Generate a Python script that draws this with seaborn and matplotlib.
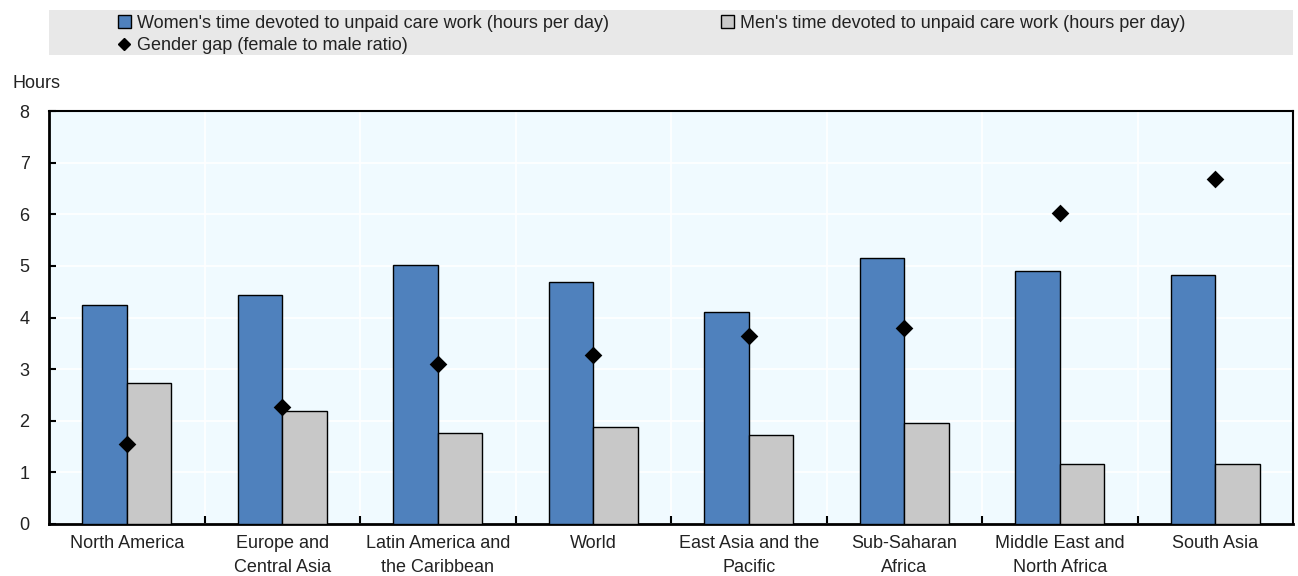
import numpy as np
import pandas as pd
import matplotlib
matplotlib.use("Agg")
import matplotlib.pyplot as plt
from matplotlib.lines import Line2D
from matplotlib.patches import Patch, Rectangle
from matplotlib.ticker import FixedLocator
import seaborn as sns

regions = ["North America", "Europe and\nCentral Asia", "Latin America and\nthe Caribbean",
           "World", "East Asia and the\nPacific", "Sub-Saharan\nAfrica",
           "Middle East and\nNorth Africa", "South Asia"]
women_hours = [4.24, 4.44, 5.02, 4.69, 4.11, 5.16, 4.90, 4.83]
men_hours = [2.73, 2.19, 1.76, 1.88, 1.72, 1.96, 1.16, 1.16]
gender_gap = [1.55, 2.27, 3.10, 3.27, 3.64, 3.80, 6.03, 6.69]

women_label = "Women's time devoted to unpaid care work (hours per day)"
men_label = "Men's time devoted to unpaid care work (hours per day)"
gap_label = "Gender gap (female to male ratio)"

sns.set_theme(style="white")
plt.rcParams["font.family"] = ["Liberation Sans", "DejaVu Sans"]

blue = "#4F81BD"
grey = "#C8C8C8"
text_color = "#222222"
fs = 13

bars = pd.DataFrame({
    "region": regions * 2,
    "hours": women_hours + men_hours,
    "series": [women_label] * len(regions) + [men_label] * len(regions),
})
gaps = pd.DataFrame({"region": regions, "gap": gender_gap})

fig = plt.figure(figsize=(12.98, 5.76), dpi=100)
ax = fig.add_axes([49 / 1298, 1 - 524 / 576, (1293 - 49) / 1298, (524 - 111) / 576])
ax.set_facecolor("#F0FAFF")

sns.barplot(data=bars, x="region", y="hours", hue="series", order=regions,
            hue_order=[women_label, men_label], palette=[blue, grey],
            width=0.575, gap=0, edgecolor="black", linewidth=1.0,
            saturation=1, legend=False, ax=ax, zorder=3)
sns.stripplot(data=gaps, x="region", y="gap", order=regions, jitter=False,
              marker="D", color="black", size=9, linewidth=0, ax=ax, zorder=4)

ax.set_xlim(-0.5, len(regions) - 0.5)
ax.set_ylim(0, 8)
ax.set_yticks(range(0, 9))
ax.set_xlabel("")
ax.set_ylabel("")

# category separators as minor ticks, white grid behind the bars
ax.xaxis.set_minor_locator(FixedLocator(np.arange(0.5, len(regions) - 0.5, 1)))
ax.grid(True, axis="y", which="major", color="white", linewidth=1.2, zorder=0)
ax.grid(True, axis="x", which="minor", color="white", linewidth=1.2, zorder=0)
ax.set_axisbelow(True)

ax.tick_params(axis="x", which="major", length=0, pad=8, labelsize=fs, colors=text_color)
ax.tick_params(axis="x", which="minor", direction="in", length=6, width=1.5,
               color="black", bottom=True)
ax.tick_params(axis="y", which="major", direction="in", length=5, width=1.5,
               color="black", left=True, labelsize=fs, pad=14, labelcolor=text_color)
for lbl in ax.get_xticklabels():
    lbl.set_linespacing(1.5)

for side in ["left", "bottom", "top", "right"]:
    ax.spines[side].set_visible(True)
    ax.spines[side].set_color("black")
    ax.spines[side].set_linewidth(1.5)
ax.spines["bottom"].set_linewidth(2.0)
ax.spines["left"].set_linewidth(2.0)

fig.text(12 / 1298, 1 - 83 / 576, "Hours", fontsize=fs, color=text_color, va="center", ha="left")

# legend band
fig.patches.append(Rectangle((49 / 1298, 1 - 55 / 576), (1293 - 49) / 1298, 45 / 576,
                             transform=fig.transFigure, facecolor="#E8E8E8",
                             edgecolor="none", zorder=0))
handles = [
    Patch(facecolor=blue, edgecolor="black", linewidth=1.0, label=women_label),
    Line2D([], [], marker="D", color="black", linestyle="none", markersize=6, label=gap_label),
    Patch(facecolor=grey, edgecolor="black", linewidth=1.0, label=men_label),
]
fig.legend(handles=handles, ncol=2, loc="upper left",
           bbox_to_anchor=(105 / 1298, 1 - 2 / 576), frameon=False,
           fontsize=fs, handlelength=0.75, handleheight=0.75, handletextpad=0.3,
           columnspacing=6.2, labelspacing=0.3, borderpad=0.2, labelcolor=text_color)

fig.savefig("out.png", dpi=100)
